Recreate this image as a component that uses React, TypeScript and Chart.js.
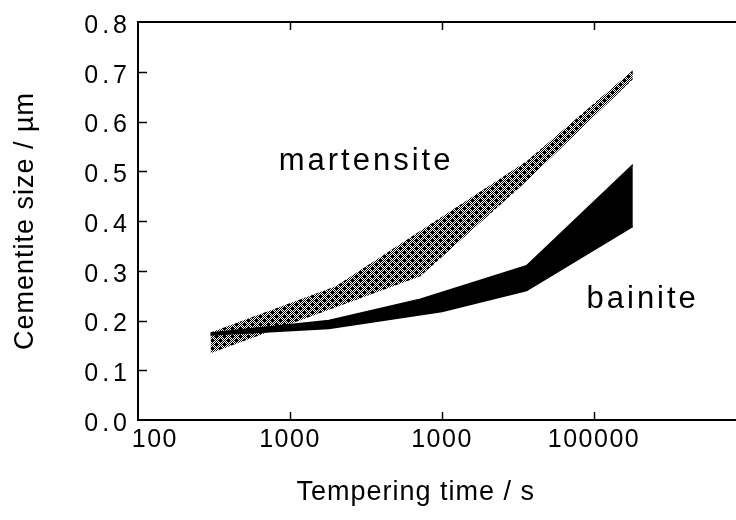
import React, { useEffect, useRef } from 'react';
import { Chart, registerables } from 'chart.js';

Chart.register(...registerables);

const FONT = '"Liberation Sans", Arial, Helvetica, sans-serif';

// Axis ticks (labels reproduced as printed in the original figure)
const xTickValues = [100, 1000, 10000, 100000];
const xTickLabels = ['100', '1000', '1000', '100000'];
const yTickValues = [0, 0.1, 0.2, 0.3, 0.4, 0.5, 0.6, 0.7, 0.8];

// Martensite band (upper and lower boundaries)
const martensiteUpperTime = [300, 2000, 36000, 180000];
const martensiteUpperSize = [0.176, 0.269, 0.52, 0.703];
const martensiteLowerTime = [300, 7200, 36000, 180000];
const martensiteLowerSize = [0.134, 0.289, 0.48, 0.685];

// Bainite band (upper and lower boundaries)
const bainiteUpperTime = [300, 1800, 7200, 36000, 180000];
const bainiteUpperSize = [0.175, 0.2, 0.243, 0.31, 0.513];
const bainiteLowerTime = [300, 1800, 10000, 36000, 180000];
const bainiteLowerSize = [0.171, 0.184, 0.218, 0.26, 0.389];

// Region labels
const regionLabels = ['martensite', 'bainite'];
const regionLabelTime = [3162, 209000];
const regionLabelSize = [0.503, 0.2255];

const xTitle = 'Tempering time / s';
const yTitle = 'Cementite size / µm';

const pts = (xs: number[], ys: number[]) => xs.map((x, i) => ({ x, y: ys[i] }));

const spacing: Record<string, { labels: string; title: string }> = {
  x: { labels: '1.5px', title: '1px' },
  y: { labels: '4px', title: '1px' },
};

export default function App() {
  const ref = useRef<HTMLCanvasElement>(null);

  useEffect(() => {
    const canvas = ref.current!;
    const ctx = canvas.getContext('2d')!;

    // stipple pattern for martensite band
    const pc = document.createElement('canvas');
    pc.width = 8;
    pc.height = 8;
    const p = pc.getContext('2d')!;
    p.fillStyle = '#fff';
    p.fillRect(0, 0, 8, 8);
    p.fillStyle = '#000';
    for (let yy = 0; yy < 8; yy++) {
      for (let xx = 0; xx < 8; xx++) {
        if ((xx + yy) % 2 === 0) p.fillRect(xx, yy, 1, 1);
      }
    }
    const arms = [[1, 0], [-1, 0], [0, 1], [0, -1]];
    for (const [cx, cy] of [[0, 0], [4, 4]]) {
      for (const [dx, dy] of arms) {
        p.fillRect((cx + dx + 8) % 8, (cy + dy + 8) % 8, 1, 1);
      }
    }
    const pattern = ctx.createPattern(pc, 'repeat');

    const wrapScales = (chart: any) => {
      for (const id of ['x', 'y']) {
        const s = chart.scales[id];
        if (!s || s.__wrapped) continue;
        s.__wrapped = true;
        const dl = s.drawLabels.bind(s);
        const dt = s.drawTitle.bind(s);
        s.drawLabels = (a: any) => {
          const prev = s.ctx.letterSpacing;
          s.ctx.letterSpacing = spacing[id].labels;
          dl(a);
          s.ctx.letterSpacing = prev;
        };
        s.drawTitle = (a: any) => {
          const prev = s.ctx.letterSpacing;
          s.ctx.letterSpacing = spacing[id].title;
          dt(a);
          s.ctx.letterSpacing = prev;
        };
      }
    };

    const framePlugin = {
      id: 'frame',
      afterLayout(chart: any) {
        wrapScales(chart);
      },
      beforeDraw(chart: any) {
        wrapScales(chart);
      },
      afterDraw(chart: any) {
        const c = chart.ctx;
        const { left, right, top, bottom } = chart.chartArea;
        const xs = chart.scales.x;
        const ys = chart.scales.y;
        c.save();
        c.strokeStyle = '#000';
        c.lineWidth = 2;
        c.beginPath();
        c.moveTo(left - 1, top);
        c.lineTo(right, top);
        c.stroke();
        c.lineWidth = 1.5;
        c.beginPath();
        for (const v of yTickValues.slice(1, -1)) {
          const py = Math.round(ys.getPixelForValue(v)) + 0.5;
          c.moveTo(left, py);
          c.lineTo(left + 9, py);
        }
        for (const v of xTickValues.slice(1)) {
          const px = Math.round(xs.getPixelForValue(v)) + 0.5;
          c.moveTo(px, bottom);
          c.lineTo(px, bottom - 8);
          c.moveTo(px, top);
          c.lineTo(px, top + 8);
        }
        c.stroke();
        c.fillStyle = '#000';
        c.font = '31px ' + FONT;
        c.letterSpacing = '3px';
        c.textAlign = 'center';
        c.textBaseline = 'alphabetic';
        regionLabels.forEach((t, i) => {
          c.fillText(t, xs.getPixelForValue(regionLabelTime[i]), ys.getPixelForValue(regionLabelSize[i]));
        });
        c.restore();
      },
    };

    const chart = new Chart(canvas, {
      type: 'line',
      data: {
        datasets: [
          {
            data: pts(bainiteUpperTime, bainiteUpperSize),
            borderColor: '#000',
            borderWidth: 1.5,
            backgroundColor: '#000',
            fill: '+1',
            pointRadius: 0,
          },
          {
            data: pts(bainiteLowerTime, bainiteLowerSize),
            borderColor: '#000',
            borderWidth: 1.5,
            fill: false,
            pointRadius: 0,
          },
          {
            data: pts(martensiteUpperTime, martensiteUpperSize),
            borderColor: 'rgba(0,0,0,0)',
            borderWidth: 1,
            backgroundColor: pattern as any,
            fill: '+1',
            pointRadius: 0,
          },
          {
            data: pts(martensiteLowerTime, martensiteLowerSize),
            borderColor: 'rgba(0,0,0,0)',
            borderWidth: 1,
            fill: false,
            pointRadius: 0,
          },
        ] as any,
      },
      options: {
        animation: false,
        responsive: false,
        devicePixelRatio: 1,
        layout: { padding: { top: 19, left: 0, right: 0, bottom: 0 } },
        plugins: {
          legend: { display: false },
          tooltip: { enabled: false },
        },
        elements: { point: { radius: 0 }, line: { tension: 0 } },
        scales: {
          x: {
            type: 'logarithmic',
            min: 100,
            max: 859000,
            afterBuildTicks: (s: any) => {
              s.ticks = xTickValues.map((v) => ({ value: v }));
            },
            afterFit: (s: any) => {
              s.height = 100;
            },
            grid: { display: false, drawTicks: false },
            border: { display: true, color: '#000', width: 2 },
            ticks: {
              color: '#000',
              font: { family: FONT, size: 25 },
              padding: 5,
              autoSkip: false,
              maxRotation: 0,
              minRotation: 0,
              callback: (v: any) => {
                const i = xTickValues.indexOf(Number(v));
                if (i < 0) return null;
                return i === 0 ? '    ' + xTickLabels[i] : xTickLabels[i];
              },
            },
            title: {
              display: true,
              text: xTitle + '     ',
              color: '#000',
              font: { family: FONT, size: 27 },
              padding: { top: 0, bottom: 11 },
            },
          },
          y: {
            min: 0,
            max: 0.8,
            afterBuildTicks: (s: any) => {
              s.ticks = yTickValues.map((v) => ({ value: v }));
            },
            afterFit: (s: any) => {
              s.width = 138;
            },
            grid: { display: false, drawTicks: false },
            border: { display: true, color: '#000', width: 2 },
            ticks: {
              color: '#000',
              font: { family: FONT, size: 25 },
              padding: 7,
              labelOffset: 4,
              callback: (v: any) => Number(v).toFixed(1),
            },
            title: {
              display: true,
              text: yTitle,
              color: '#000',
              font: { family: FONT, size: 27 },
              padding: { top: 9, bottom: 0 },
            },
          },
        },
      } as any,
      plugins: [framePlugin],
    });

    return () => chart.destroy();
  }, []);

  return (
    <div style={{ position: 'absolute', left: 0, top: 0, width: 736, height: 520, background: '#fff' }}>
      <canvas ref={ref} width={736} height={520} style={{ display: 'block', width: 736, height: 520 }} />
    </div>
  );
}
